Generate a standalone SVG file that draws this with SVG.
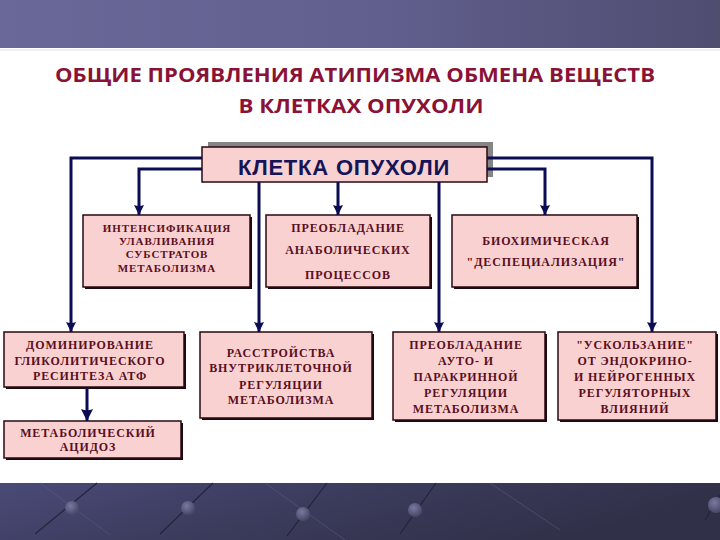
<svg xmlns="http://www.w3.org/2000/svg" width="720" height="540" viewBox="0 0 720 540">
<defs>
<linearGradient id="topg" x1="0" y1="0" x2="1" y2="0">
<stop offset="0" stop-color="#6a6898"/>
<stop offset="0.5" stop-color="#62608f"/>
<stop offset="1" stop-color="#4f4d70"/>
</linearGradient>
<linearGradient id="botg" x1="0" y1="0" x2="1" y2="0.3">
<stop offset="0" stop-color="#4a4a78"/>
<stop offset="0.5" stop-color="#3b3b5c"/>
<stop offset="1" stop-color="#303048"/>
</linearGradient>
<radialGradient id="ball" cx="0.4" cy="0.35" r="0.6">
<stop offset="0" stop-color="#7a7aa0"/>
<stop offset="1" stop-color="#4a4a6c"/>
</radialGradient>
<marker id="arr" markerUnits="userSpaceOnUse" markerWidth="10" markerHeight="10" refX="10" refY="5" orient="auto" viewBox="0 0 10 10">
<path d="M0,0 Q2,5 0,10 L10,5 Z" fill="#0c0c55"/>
</marker>
<marker id="arr2" markerUnits="userSpaceOnUse" markerWidth="12" markerHeight="12" refX="10" refY="5" orient="auto" viewBox="0 0 10 10">
<path d="M0,0 Q2,5 0,10 L10,5 Z" fill="#0c0c55"/>
</marker>
</defs>
<style>
.title{font-family:"Open Sans","Liberation Sans",sans-serif;font-weight:bold;font-size:19px;fill:#8a1236;}
.box{fill:#f9d1d1;stroke:#2a0810;stroke-width:1.5;}
.shadow{fill:#1a0a10;}
.t{font-family:"Liberation Serif","Times New Roman",serif;font-weight:bold;font-size:12px;fill:#5a0f22;letter-spacing:0.9px;text-anchor:middle;}
.s{font-size:11px;}
.conn{fill:none;stroke:#0c0c55;stroke-width:3;}
.main{font-family:"Liberation Sans",Arial,sans-serif;font-weight:bold;font-size:22px;fill:#141458;text-anchor:middle;letter-spacing:0.8px;}
</style>
<rect x="0" y="0" width="720" height="540" fill="#ffffff"/>
<rect x="0" y="0" width="720" height="48" fill="url(#topg)"/>
<line x1="0" y1="50" x2="720" y2="50" stroke="#eceaf6" stroke-width="1.5"/>
<g id="footer">
<rect x="0" y="483" width="720" height="57" fill="url(#botg)"/>
<g stroke="#23233a" stroke-width="1.2">
<line x1="35" y1="534" x2="97" y2="483"/>
<line x1="160" y1="534" x2="213" y2="483"/>
<line x1="287" y1="536" x2="327" y2="483"/>
<line x1="400" y1="534" x2="436" y2="483"/>
<line x1="705" y1="520" x2="720" y2="495"/>
</g>
<g stroke="#5a5a80" stroke-width="1" opacity="0.6">
<line x1="40" y1="483" x2="110" y2="535"/>
<line x1="265" y1="483" x2="345" y2="540"/>
<line x1="490" y1="483" x2="560" y2="530"/>
</g>
<circle cx="72" cy="508" r="7" fill="url(#ball)"/>
<circle cx="188" cy="508" r="7" fill="url(#ball)"/>
<circle cx="303" cy="514" r="7" fill="url(#ball)"/>
<circle cx="415" cy="510" r="7" fill="url(#ball)"/>
<circle cx="716" cy="505" r="8" fill="url(#ball)"/>
</g>
<g id="title">
<text class="title" x="355" y="82" text-anchor="middle" textLength="600" lengthAdjust="spacingAndGlyphs">ОБЩИЕ  ПРОЯВЛЕНИЯ  АТИПИЗМА ОБМЕНА  ВЕЩЕСТВ</text>
<text class="title" x="361" y="113" text-anchor="middle" textLength="245" lengthAdjust="spacingAndGlyphs">В КЛЕТКАХ ОПУХОЛИ</text>
</g>
<g id="main">
<rect x="208" y="142" width="285" height="35" fill="#858585"/>
<rect x="202" y="147" width="285" height="35" fill="#f9d1d1" stroke="#2a0810" stroke-width="1.5"/>
<text class="main" x="344" y="175">КЛЕТКА  ОПУХОЛИ</text>
</g>
<g id="n1">
<rect class="shadow" x="85" y="217" width="167" height="72"/>
<rect class="box" x="83" y="215" width="167" height="72"/>
<text class="t s" x="167" y="232">ИНТЕНСИФИКАЦИЯ</text>
<text class="t s" x="167" y="245">УЛАВЛИВАНИЯ</text>
<text class="t s" x="167" y="258">СУБСТРАТОВ</text>
<text class="t s" x="167" y="272">МЕТАБОЛИЗМА</text>
</g>
<g id="n2">
<rect class="shadow" x="268" y="217" width="164" height="72"/>
<rect class="box" x="266" y="215" width="164" height="72"/>
<text class="t" x="348" y="232">ПРЕОБЛАДАНИЕ</text>
<text class="t" x="348" y="254">АНАБОЛИЧЕСКИХ</text>
<text class="t" x="348" y="279">ПРОЦЕССОВ</text>
</g>
<g id="n3">
<rect class="shadow" x="454" y="217" width="185" height="72"/>
<rect class="box" x="452" y="215" width="185" height="72"/>
<text class="t" x="546" y="245">БИОХИМИЧЕСКАЯ</text>
<text class="t" x="546" y="266">"ДЕСПЕЦИАЛИЗАЦИЯ"</text>
</g>
<g id="n4">
<rect class="shadow" x="6" y="334" width="180" height="55"/>
<rect class="box" x="4" y="332" width="180" height="55"/>
<text class="t" x="90" y="349">ДОМИНИРОВАНИЕ</text>
<text class="t" x="90" y="365">ГЛИКОЛИТИЧЕСКОГО</text>
<text class="t" x="90" y="380">РЕСИНТЕЗА  АТФ</text>
</g>
<g id="n5">
<rect class="shadow" x="6" y="423" width="177" height="37"/>
<rect class="box" x="4" y="421" width="177" height="37"/>
<text class="t" x="88" y="437">МЕТАБОЛИЧЕСКИЙ</text>
<text class="t" x="88" y="451">АЦИДОЗ</text>
</g>
<g id="n6">
<rect class="shadow" x="202" y="334" width="172" height="86"/>
<rect class="box" x="200" y="332" width="172" height="86"/>
<text class="t" x="281" y="357">РАССТРОЙСТВА</text>
<text class="t" x="281" y="372">ВНУТРИКЛЕТОЧНОЙ</text>
<text class="t" x="281" y="389">РЕГУЛЯЦИИ</text>
<text class="t" x="281" y="404">МЕТАБОЛИЗМА</text>
</g>
<g id="n7">
<rect class="shadow" x="395" y="334" width="152" height="88"/>
<rect class="box" x="393" y="332" width="152" height="88"/>
<text class="t" x="466" y="349">ПРЕОБЛАДАНИЕ</text>
<text class="t" x="466" y="365">АУТО-  И</text>
<text class="t" x="466" y="381">ПАРАКРИННОЙ</text>
<text class="t" x="466" y="397">РЕГУЛЯЦИИ</text>
<text class="t" x="466" y="413">МЕТАБОЛИЗМА</text>
</g>
<g id="n8">
<rect class="shadow" x="560" y="334" width="158" height="88"/>
<rect class="box" x="558" y="332" width="158" height="88"/>
<text class="t" x="635" y="349">"УСКОЛЬЗАНИЕ"</text>
<text class="t" x="635" y="365">ОТ ЭНДОКРИНО-</text>
<text class="t" x="635" y="381">И  НЕЙРОГЕННЫХ</text>
<text class="t" x="635" y="397">РЕГУЛЯТОРНЫХ</text>
<text class="t" x="635" y="413">ВЛИЯНИЙ</text>
</g>
<g id="connectors">
<polyline class="conn" points="202,158 71,158 71,332" marker-end="url(#arr)"/>
<polyline class="conn" points="202,169 139,169 139,215" marker-end="url(#arr)"/>
<polyline class="conn" points="259,182 259,332" marker-end="url(#arr)"/>
<polyline class="conn" points="338,182 338,215" marker-end="url(#arr)"/>
<polyline class="conn" points="439,182 439,332" marker-end="url(#arr)"/>
<polyline class="conn" points="487,169 545,169 545,215" marker-end="url(#arr)"/>
<polyline class="conn" points="487,158 652,158 652,332" marker-end="url(#arr)"/>
<polyline class="conn" points="87,388 87,421" stroke-width="4" marker-end="url(#arr2)"/>
</g>
</svg>
